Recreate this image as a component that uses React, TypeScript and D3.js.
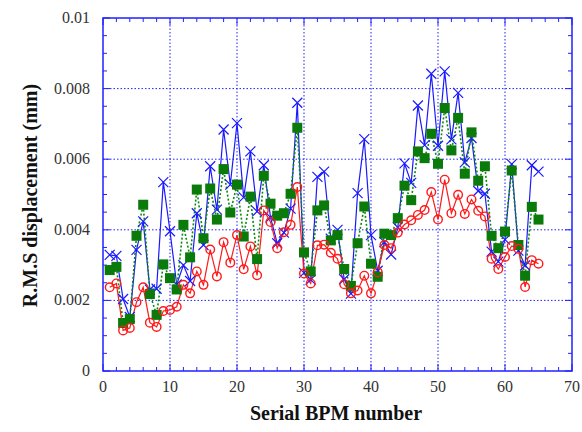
import React from "react";
import * as d3 from "d3";

const bpm: number[] = Array.from({ length: 65 }, (_, i) => i + 1);

// values in units of 1e-3 mm
const blueVals = [3.29, 3.26, 2.04, 1.53, 3.43, 4.24, 2.31, 2.33, 5.35, 3.96, 2.45, 3.0, 2.55, 4.47, 3.57, 5.8, 4.57, 6.84, 5.28, 7.02, 4.92, 6.22, 4.52, 5.83, 4.35, 3.62, 3.92, 4.6, 7.6, 2.78, 2.59, 5.5, 5.65, 3.75, 4.0, 2.6, 2.19, 5.04, 6.57, 3.85, 2.84, 3.65, 3.3, 4.07, 5.88, 5.33, 7.52, 6.4, 8.42, 6.38, 8.49, 6.56, 7.88, 5.91, 6.6, 5.1, 5.02, 3.38, 3.1, 3.72, 5.86, 3.41, 2.99, 5.83, 5.65];
const greenVals = [2.86, 2.95, 1.36, 1.47, 3.83, 4.71, 2.18, 1.59, 3.02, 2.63, 2.31, 4.14, 3.22, 5.14, 3.76, 5.17, 4.29, 5.72, 4.49, 5.28, 3.81, 4.94, 3.17, 5.53, 4.74, 4.4, 4.47, 5.02, 6.89, 3.36, 2.82, 4.55, 4.69, 3.7, 3.85, 2.89, 2.41, 3.62, 4.66, 3.04, 2.67, 3.89, 3.85, 4.33, 5.25, 4.84, 6.22, 6.03, 6.72, 5.87, 7.45, 6.25, 7.17, 5.59, 6.76, 5.39, 5.8, 3.83, 3.48, 3.95, 5.68, 3.57, 2.7, 4.65, 4.29];
const redVals = [2.37, 2.48, 1.15, 1.22, 1.95, 2.37, 1.37, 1.25, 1.7, 1.73, 1.82, 2.44, 2.2, 2.82, 2.44, 3.44, 2.68, 3.65, 3.07, 3.85, 2.88, 3.53, 2.71, 4.55, 4.22, 3.48, 3.93, 4.14, 5.21, 2.76, 2.48, 3.56, 3.58, 3.35, 3.18, 2.46, 2.2, 2.28, 2.7, 2.2, 2.8, 3.57, 3.48, 3.92, 4.15, 4.27, 4.42, 4.56, 5.07, 4.29, 5.42, 4.47, 4.99, 4.45, 4.86, 4.54, 4.38, 3.18, 2.89, 3.23, 3.54, 3.46, 2.38, 3.14, 3.04];

const xTicks = [0, 10, 20, 30, 40, 50, 60, 70];
const yTicks = [0, 0.002, 0.004, 0.006, 0.008, 0.01];
const yTickLabels = ["0", "0.002", "0.004", "0.006", "0.008", "0.01"];

const W = 582, H = 432;
const L = 103, R = 572, T = 18, B = 371;

export default function App() {
  const x = d3.scaleLinear().domain([0, 70]).range([L, R]);
  const y = d3.scaleLinear().domain([0, 0.01]).range([B, T]);
  const line = d3.line<[number, number]>().x(d => x(d[0])).y(d => y(d[1]));
  const pts = (vals: number[]) => bpm.map((b, i) => [b, vals[i] / 1000] as [number, number]);
  const blue = pts(blueVals), green = pts(greenVals), red = pts(redVals);
  const axisColor = "#2020ff";
  const xMinor = d3.range(0, 70.001, 2);
  const yMinor = d3.range(0, 0.01001, 0.0005);
  const fontStyle = { fontFamily: "Liberation Serif" };

  return (
    <svg width={W} height={H} style={{ position: "absolute", left: 0, top: 0, background: "#fff" }}>
      <rect x={0} y={0} width={W} height={H} fill="#fff" />
      {xTicks.slice(1, -1).map(t => (
        <line key={"gx" + t} x1={x(t)} x2={x(t)} y1={T} y2={B} stroke={axisColor} strokeWidth={1} strokeDasharray="1.5,2" />
      ))}
      {yTicks.slice(1, -1).map(t => (
        <line key={"gy" + t} x1={L} x2={R} y1={y(t)} y2={y(t)} stroke={axisColor} strokeWidth={1} strokeDasharray="1.5,2" />
      ))}
      {xMinor.map(t => (
        <g key={"xm" + t}>
          <line x1={x(t)} x2={x(t)} y1={B} y2={B - (t % 10 === 0 ? 7 : 4)} stroke={axisColor} />
          <line x1={x(t)} x2={x(t)} y1={T} y2={T + (t % 10 === 0 ? 7 : 4)} stroke={axisColor} />
        </g>
      ))}
      {yMinor.map((t, i) => (
        <g key={"ym" + i}>
          <line x1={L} x2={L + (i % 4 === 0 ? 7 : 4)} y1={y(t)} y2={y(t)} stroke={axisColor} />
          <line x1={R} x2={R - (i % 4 === 0 ? 7 : 4)} y1={y(t)} y2={y(t)} stroke={axisColor} />
        </g>
      ))}
      <path d={line(blue) ?? ""} fill="none" stroke="#1a1aff" strokeWidth={1.2} />
      <path d={line(green) ?? ""} fill="none" stroke="#0a8a0a" strokeWidth={1.6} strokeDasharray="2,2" />
      <path d={line(red) ?? ""} fill="none" stroke="#ff1a1a" strokeWidth={1.2} />
      {blue.map((p, i) => (
        <path key={"b" + i} d={`M${x(p[0]) - 5},${y(p[1]) - 5}L${x(p[0]) + 5},${y(p[1]) + 5}M${x(p[0]) - 5},${y(p[1]) + 5}L${x(p[0]) + 5},${y(p[1]) - 5}`} stroke="#1a1aff" strokeWidth={1.2} fill="none" />
      ))}
      {green.map((p, i) => (
        <rect key={"g" + i} x={x(p[0]) - 5} y={y(p[1]) - 5} width={10} height={10} fill="#0a7a0a" />
      ))}
      {red.map((p, i) => (
        <circle key={"r" + i} cx={x(p[0])} cy={y(p[1])} r={4.3} fill="none" stroke="#ff1a1a" strokeWidth={1.4} />
      ))}
      <rect x={L} y={T} width={R - L} height={B - T} fill="none" stroke={axisColor} strokeWidth={1.5} />
      {xTicks.map(t => (
        <text key={"xl" + t} x={x(t)} y={B + 21} textAnchor="middle" style={fontStyle} fontSize={16} fill="#333">{t}</text>
      ))}
      {yTicks.map((t, i) => (
        <text key={"yl" + t} x={L - 13} y={y(t) + 5} textAnchor="end" style={fontStyle} fontSize={16} fill="#333">{yTickLabels[i]}</text>
      ))}
      <text x={336} y={420} textAnchor="middle" style={fontStyle} fontSize={20} fontWeight="bold" fill="#111">Serial BPM number</text>
      <text transform={`translate(37,${(T + B) / 2 + 1}) rotate(-90)`} textAnchor="middle" style={fontStyle} fontSize={20} fontWeight="bold" fill="#111">R.M.S displacement (mm)</text>
    </svg>
  );
}
